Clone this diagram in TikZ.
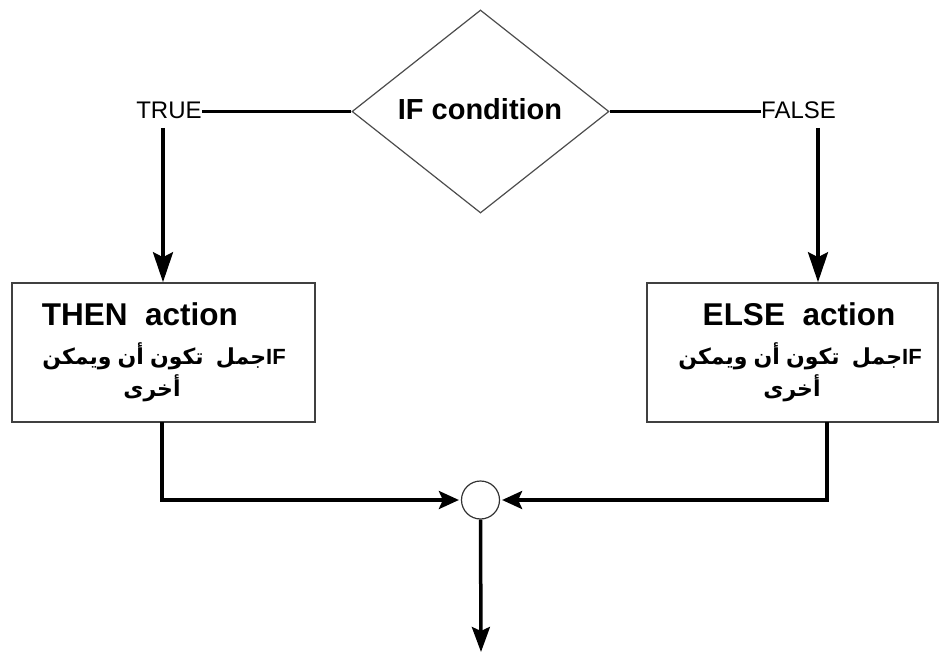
\documentclass[tikz,border=0pt]{standalone}
\usepackage{fontspec}
\setmainfont{Liberation Sans}
\newfontfamily\arabicfont[Script=Arabic]{DejaVu Sans}
\TeXXeTstate=1
\usetikzlibrary{shapes.geometric,arrows.meta}
\newcommand{\arw}[1]{\mbox{\arabicfont\bfseries\beginR #1\endR}}
\newcommand{\arline}{\arw{ويمكن} \arw{أن} \arw{تكون}\ \ \arw{جمل}\mbox{IF}}
\begin{document}
\begin{tikzpicture}[x=1pt,y=-1pt,
  thick line/.style={line width=3.5pt},
  varr/.style={thick line,-{Stealth[length=30pt,width=20pt,inset=5pt]}},
  harr/.style={thick line,-{Stealth[length=20pt,width=18pt,inset=4pt]}},
  darr/.style={thick line,-{Stealth[length=25pt,width=18pt,inset=4pt]}},
  actbox/.style={draw=black!75,line width=1.6pt,rectangle,inner sep=0pt},
  lbl/.style={font=\fontsize{24}{28}\selectfont,inner sep=0pt},
  ttl/.style={font=\fontsize{31.5}{36}\selectfont\bfseries,inner sep=0pt,anchor=base},
  arb/.style={font=\fontsize{22}{26}\selectfont\bfseries,inner sep=0pt,anchor=base}]
\useasboundingbox (0,0) rectangle (939,652);
% decision
\node[diamond,draw=black!70,line width=1.2pt,minimum width=257pt,minimum height=203pt,inner sep=0pt] (cond) at (480.5,111.5) {};
\node[font=\fontsize{29}{34}\selectfont\bfseries,inner sep=0pt] (condtxt) at (480,109) {IF condition};
\node[lbl] (true) at (169,110) {TRUE};
\node[lbl] (false) at (798.5,110) {FALSE};
\draw[thick line] (cond.west) -- (true.east |- cond.west);
\draw[thick line] (cond.east) -- (false.west |- cond.east);
% boxes
\node[actbox,minimum width=303pt,minimum height=139pt] (thenbox) at (163.5,352.5) {};
\node[actbox,minimum width=291pt,minimum height=139pt] (elsebox) at (792.5,352.5) {};
\coordinate (tl) at (163,128);
\coordinate (fl) at (818,128);
\draw[varr] (tl) -- (tl |- thenbox.north);
\draw[varr] (fl) -- (fl |- elsebox.north);
% box texts
\node[ttl] (thent) at (140,325) {THEN\ \ action};
\node[arb] (thena) at (164,364) {\arline};
\node[arb] (thenb) at (152,396) {\arw{أخرى}};
\node[ttl] (elset) at (799,325) {ELSE\ \ action};
\node[arb] (elsea) at (800,364) {\arline};
\node[arb] (elseb) at (792,396) {\arw{أخرى}};
% join
\node[circle,draw=black!80,line width=1.2pt,minimum size=38pt,inner sep=0pt] (join) at (480.5,500) {};
\coordinate (lb) at (162,422);
\coordinate (rb) at (827,422);
\draw[harr] (lb) |- ([xshift=-2pt]join.west);
\draw[harr] (rb) |- ([xshift=2pt]join.east);
\coordinate (out) at (481,652);
\draw[darr] (join.south) -- (out);
\end{tikzpicture}
\end{document}
